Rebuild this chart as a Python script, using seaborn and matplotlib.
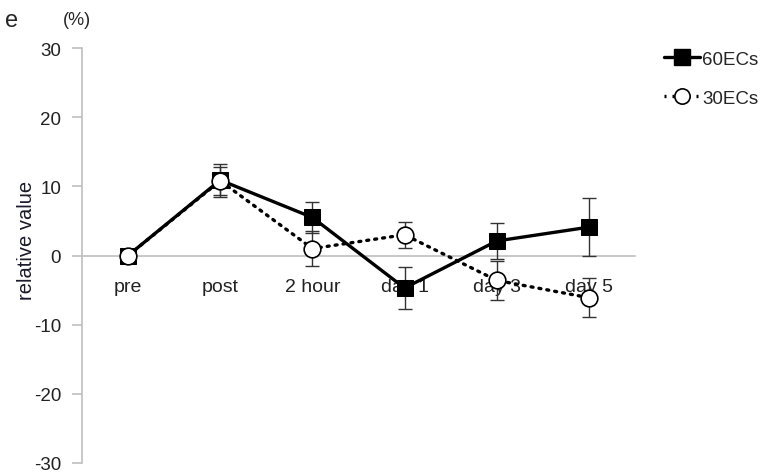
import matplotlib
matplotlib.use("Agg")
import matplotlib.pyplot as plt
import seaborn as sns
import pandas as pd
import numpy as np
from matplotlib.lines import Line2D
from matplotlib.ticker import FixedLocator, FixedFormatter

categories = ["pre", "post", "2 hour", "day 1", "day 3", "day 5"]
ec60_mean = [0.0, 10.9, 5.5, -4.7, 2.1, 4.1]
ec60_err = [0.0, 2.4, 2.3, 3.0, 2.6, 4.2]
ec30_mean = [0.0, 10.8, 1.0, 3.0, -3.6, -6.1]
ec30_err = [0.0, 2.0, 2.5, 1.9, 2.8, 2.8]
yticks = [-30, -20, -10, 0, 10, 20, 30]

sns.set_style("white")
plt.rcParams['font.family'] = ['Liberation Sans', 'DejaVu Sans']

df = pd.DataFrame({
    "time": categories * 2,
    "value": ec60_mean + ec30_mean,
    "err": ec60_err + ec30_err,
    "group": ["60ECs"] * 6 + ["30ECs"] * 6,
})

fig = plt.figure(figsize=(7.63, 4.77), dpi=100)
ax = fig.add_axes([82/763, 1-464/477, (635-82)/763, (464-49)/477])

d60 = df[df.group == "60ECs"]
d30 = df[df.group == "30ECs"]

ax.errorbar(d60["time"], d60["value"], yerr=d60["err"], fmt="none",
            ecolor="#333333", elinewidth=1.0, capsize=5, capthick=1.0, zorder=2)
ax.errorbar(d30["time"], d30["value"], yerr=d30["err"], fmt="none",
            ecolor="#333333", elinewidth=1.0, capsize=5, capthick=1.0, zorder=2)

sns.lineplot(data=d60, x="time", y="value", ax=ax, color="black", lw=2.4,
             marker="s", markersize=12, markerfacecolor="black",
             markeredgecolor="black", sort=False, zorder=3, legend=False)
sns.lineplot(data=d30, x="time", y="value", ax=ax, color="black", lw=2.4,
             linestyle=(0, (0.6, 1.8)), marker="o", markersize=12,
             markerfacecolor="white", markeredgecolor="black", markeredgewidth=1.2,
             sort=False, zorder=4, legend=False)
ax.lines[-1].set_dash_capstyle("round")

ax.set_xlim(-0.5, len(categories) - 0.5)
ax.set_ylim(-30, 30)
ax.yaxis.set_major_locator(FixedLocator(yticks))
ax.yaxis.set_major_formatter(FixedFormatter([str(v) for v in yticks]))

ax.xaxis.set_major_locator(FixedLocator(list(range(len(categories)))))
ax.xaxis.set_major_formatter(FixedFormatter(categories))
ax.xaxis.set_minor_locator(FixedLocator(list(np.arange(0.5, len(categories), 1.0))))
ax.tick_params(axis="x", which="major", length=0, pad=16, labelsize=14, labelcolor="#222222")
ax.tick_params(axis="x", which="minor", length=7, direction="out", color="#bfbfbf", width=1.2)
ax.tick_params(axis="y", length=7, direction="out", color="#bfbfbf", width=1.2, left=True,
               pad=8, labelsize=13.5, labelcolor="#222222")

for s in ["top", "right"]:
    ax.spines[s].set_visible(False)
ax.spines["bottom"].set_position(("data", 0))
ax.spines["bottom"].set_color("#bfbfbf")
ax.spines["bottom"].set_linewidth(1.2)
ax.spines["bottom"].set_zorder(1)
ax.spines["left"].set_color("#bfbfbf")
ax.spines["left"].set_linewidth(1.2)
ax.set_xlabel("")
ax.set_ylabel("relative value", fontsize=14.5, color="#1a1a2a")
ax.yaxis.set_label_coords((36 - 82) / 553, (464 - 240) / 415)

fig.text(0.006, 0.955, "e", fontsize=17, ha="left", va="center")
fig.text(63/763, 0.958, "(%)", fontsize=13, ha="left", va="center")

handles = [
    Line2D([], [], color="black", lw=2.4, marker="s", markersize=11,
           markerfacecolor="black"),
    Line2D([], [], color="black", lw=2.4, linestyle=(0, (0.6, 1.8)), marker="o",
           markersize=11, markerfacecolor="white", markeredgewidth=1.2),
]
fig.legend(handles, ["60ECs", "30ECs"], loc="upper left",
           bbox_to_anchor=(647/763, 1-35/477), frameon=False, fontsize=13.5,
           handlelength=1.9, handletextpad=0.15, labelspacing=1.15)

fig.savefig("out.png", dpi=100)
